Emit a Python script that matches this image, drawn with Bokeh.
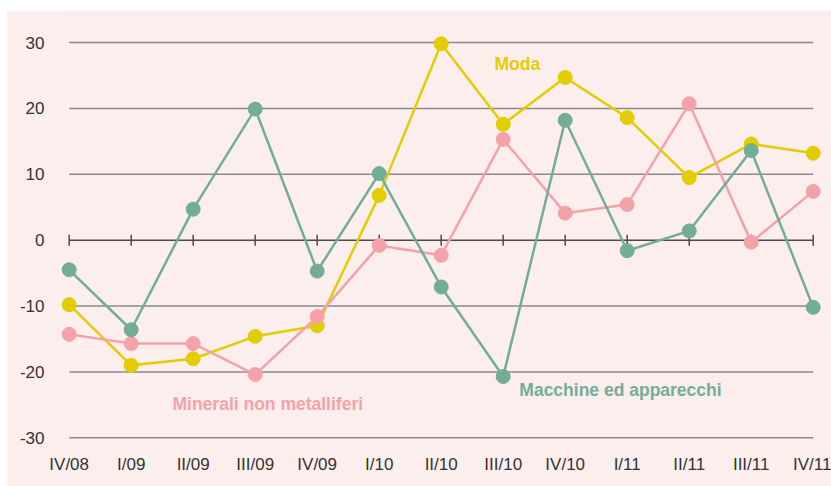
import math
from bokeh.plotting import figure
from bokeh.models import Range1d, FixedTicker, Label
from bokeh.embed import file_html
from bokeh.resources import INLINE

quarters = ["IV/08", "I/09", "II/09", "III/09", "IV/09", "I/10", "II/10",
            "III/10", "IV/10", "I/11", "II/11", "III/11", "IV/11"]
moda = [-9.8, -19.0, -18.0, -14.6, -13.0, 6.8, 29.8, 17.6, 24.7, 18.6, 9.5, 14.6, 13.2]
minerali = [-14.3, -15.7, -15.7, -20.4, -11.6, -0.8, -2.3, 15.3, 4.1, 5.4, 20.7, -0.3, 7.4]
macchine = [-4.5, -13.6, 4.7, 19.9, -4.7, 10.1, -7.1, -20.7, 18.2, -1.6, 1.4, 13.6, -10.2]
y_ticks = [-30, -20, -10, 0, 10, 20, 30]

BG = "#fdeeee"
YELLOW = "#e3cc00"
PINK = "#f4a2a9"
TEAL = "#72ad97"
GRID = "#8a8a8a"
AXIS = "#4a4a4a"
TEXT = "#333333"
FONT = "Liberation Sans"

xs = list(range(len(quarters)))

p = figure(width=825, height=476, output_backend="svg", toolbar_location=None,
           x_range=Range1d(-0.14, 12.295), y_range=Range1d(-31.17, 34.86),
           min_border_left=54, min_border_right=0, min_border_top=0, min_border_bottom=41,
           background_fill_color=BG, border_fill_color=BG, outline_line_color=None)
p.margin = (10, 0, 0, 6)
p.xgrid.visible = False
p.ygrid.visible = False

# horizontal gridlines spanning first to last quarter
grid_y = [t for t in y_ticks if t != 0]
p.segment(x0=[xs[0]] * len(grid_y), x1=[xs[-1]] * len(grid_y), y0=grid_y, y1=grid_y,
          line_color=GRID, line_width=1.5)

# zero axis line with tick marks
p.line([xs[0], xs[-1]], [0, 0], line_color=AXIS, line_width=1.5)
p.scatter(xs, [0] * len(xs), marker="dash", angle=math.pi / 2, size=11,
          line_color=AXIS, line_width=1.5)

for vals, col in [(moda, YELLOW), (minerali, PINK), (macchine, TEAL)]:
    p.line(xs, vals, line_color=col, line_width=2.5)
    p.scatter(xs, vals, size=14, fill_color=col, line_color=col)

# axes
p.xaxis.ticker = FixedTicker(ticks=xs)
p.xaxis.major_label_overrides = {i: q for i, q in zip(xs, quarters)}
p.xaxis.axis_line_color = None
p.xaxis.major_tick_line_color = None
p.xaxis.minor_tick_line_color = None
p.xaxis.major_label_standoff = 3
p.xaxis.major_label_text_font = FONT
p.xaxis.major_label_text_font_size = "17px"
p.xaxis.major_label_text_color = TEXT

p.yaxis.ticker = FixedTicker(ticks=y_ticks)
p.yaxis.major_label_overrides = {t: str(t) for t in y_ticks}
p.yaxis.axis_line_color = None
p.yaxis.major_tick_line_color = None
p.yaxis.minor_tick_line_color = None
p.yaxis.major_label_standoff = 10
p.yaxis.major_label_text_font = FONT
p.yaxis.major_label_text_font_size = "17px"
p.yaxis.major_label_text_color = TEXT

for txt, lx, ly, col in [("Moda", 6.86, 26.7, YELLOW),
                         ("Minerali non metalliferi", 1.666, -24.8, PINK),
                         ("Macchine ed apparecchi", 7.26, -22.8, TEAL)]:
    p.add_layout(Label(x=lx, y=ly, text=txt, text_color=col, text_font=FONT,
                       text_font_style="bold", text_font_size="17.5px",
                       text_align="left", text_baseline="middle"))

open("out.html", "w").write(file_html(p, INLINE))
